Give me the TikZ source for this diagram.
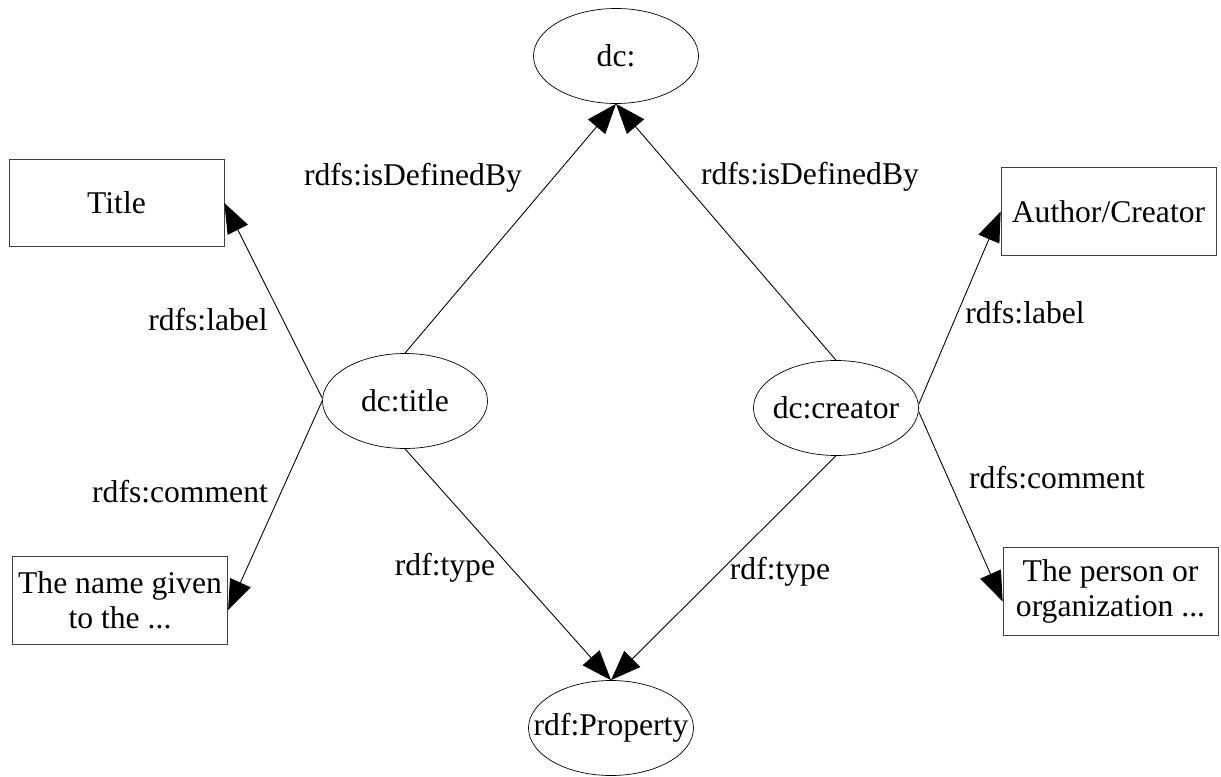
\documentclass[tikz,border=0pt]{standalone}
\usepackage{fontspec}
\setmainfont{Liberation Serif}
\usepackage{tikz}
\usetikzlibrary{arrows.meta}
\usetikzlibrary{shapes.geometric}

\begin{document}
\begin{tikzpicture}[font=\fontsize{18}{20}\selectfont,
  res/.style={ellipse,draw,inner sep=0pt,minimum width=3.3cm,minimum height=1.9cm},
  lit/.style={rectangle,draw=black!75,align=center,minimum width=4.3cm,minimum height=1.75cm},
  rel/.style={-{Triangle[length=0.6cm,width=0.45cm]},line width=0.5pt}]
\useasboundingbox (0,0) rectangle (24.42,15.52);
\node[res] (dc)      at (12.32,14.40) {\makebox[0pt]{dc:}};
\node[res] (title)   at (8.10,7.50)   {\makebox[0pt]{dc:title}};
\node[res] (creator) at (16.72,7.36)  {\makebox[0pt]{dc:creator}};
\node[res] (prop)    at (12.22,0.96)  {\makebox[0pt]{rdf:Property}};
\node[lit] (ttlbox)  at (2.33,11.46)  {Title};
\node[lit] (namebox) at (2.40,3.51)   {The name given\\to the ...};
\node[lit] (authbox) at (22.17,11.29) {Author/Creator};
\node[lit] (persbox) at (22.21,3.69)  {The person or\\organization ...};
% edge labels
\node (defl) at (8.26,11.96)  {rdfs:isDefinedBy};
\node (defr) at (16.20,11.98) {rdfs:isDefinedBy};
\node (labl) at (4.16,9.12)   {rdfs:label};
\node (labr) at (20.50,9.26)  {rdfs:label};
\node (coml) at (3.60,5.68)   {rdfs:comment};
\node (comr) at (21.14,5.96)  {rdfs:comment};
\node (typl) at (8.90,4.16)   {rdf:type};
\node (typr) at (15.60,4.08)  {rdf:type};
\draw[rel] (title.north) -- (dc.south);
\draw[rel] (creator.north) -- (dc.south);
\draw[rel] ([yshift=0.06cm]title.west) -- (ttlbox.east);
\draw[rel] (title.west) -- ([yshift=-0.19cm]namebox.east);
\draw[rel] ([yshift=0.08cm]creator.east) -- (authbox.west);
\draw[rel] ([yshift=-0.08cm]creator.east) -- ([yshift=-0.2cm]persbox.west);
\draw[rel] (title.south) -- (prop.north);
\draw[rel] (creator.south) -- (prop.north);
\end{tikzpicture}
\end{document}
